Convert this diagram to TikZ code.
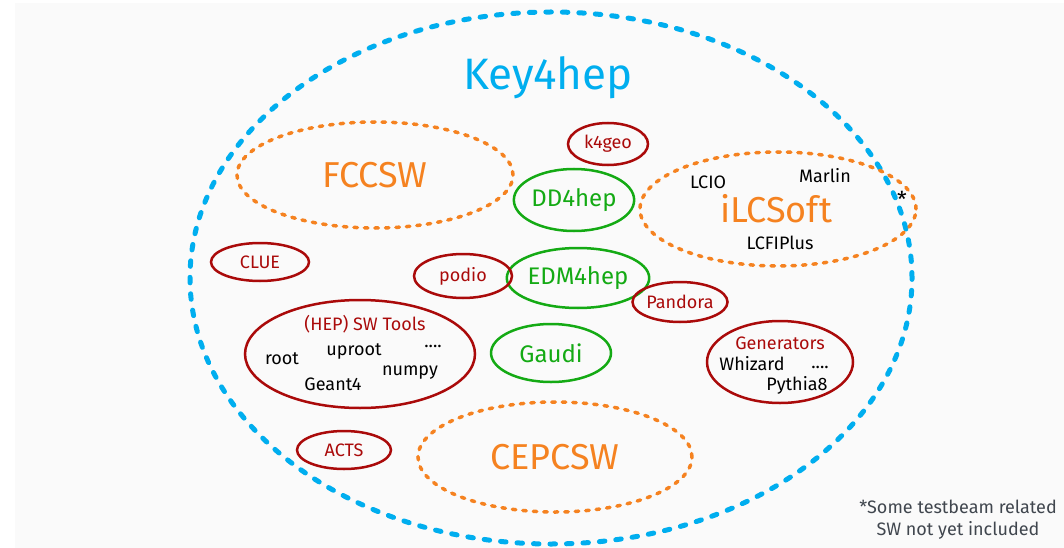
\documentclass[tikz,border=0pt]{standalone}
\usepackage{fontspec}
\setmainfont{Fira Sans}
\usetikzlibrary{shapes.geometric}
\definecolor{bgcol}{RGB}{250,250,250}
\definecolor{kblue}{RGB}{0,174,239}
\definecolor{korange}{RGB}{245,130,32}
\definecolor{kred}{RGB}{170,10,10}
\definecolor{kgreen}{RGB}{20,170,20}
\definecolor{knote}{RGB}{64,70,78}
\newcommand{\fs}[1]{\fontsize{#1}{#1}\selectfont}
\tikzset{
  outerell/.style={ellipse, draw=kblue, line width=5pt, line cap=round, dash pattern=on 5.5pt off 11pt, inner sep=0pt},
  orell/.style={ellipse, draw=korange, line width=3.5pt, line cap=round, dash pattern=on 3.5pt off 7pt, inner sep=0pt, text=korange, font=\fs{36}},
  redell/.style={ellipse, draw=kred, line width=2.5pt, inner sep=0pt, text=kred, font=\fs{18}},
  greenell/.style={ellipse, draw=kgreen, line width=2.5pt, inner sep=0pt, text=kgreen, font=\fs{24}},
  blk/.style={text=black, font=\fs{18}, inner sep=0pt},
  redtxt/.style={text=kred, font=\fs{18}, inner sep=0pt},
  note/.style={text=knote, font=\fs{18}, inner sep=0pt, align=center}
}
\begin{document}
\begin{tikzpicture}[x=1pt,y=-1pt]
\fill[white] (0,0) rectangle (1064,548);
\fill[bgcol] (15,3) rectangle (1064,548);
\useasboundingbox (0,0) rectangle (1064,548);
% outer Key4hep
\node[outerell, minimum width=722pt, minimum height=532pt] (key) at (551,278) {};
\node[text=kblue, font=\fs{44}, inner sep=0pt] (keyl) at (548,78) {Key4hep};
% orange ellipses
\node[orell, minimum width=276pt, minimum height=106pt] (fcc) at (375,175) {FCCSW};
\node[orell, minimum width=276pt, minimum height=114pt] (ilc) at (778,209) {};
\node[text=korange, font=\fs{36}, inner sep=0pt] (ilcl) at (776,209) {iLCSoft};
\node[orell, minimum width=274pt, minimum height=110pt] (cepc) at (555,457) {CEPCSW};
\node[blk] (lcio) at (708,182) {LCIO};
\node[blk] (marlin) at (825,176) {Marlin};
\node[blk] (lcfi) at (780,243) {LCFIPlus};
\node[blk, font=\fs{22}] (star) at (902,199) {*};
% green
\node[greenell, minimum width=120pt, minimum height=62pt] (dd4) at (574,200) {DD4hep};
\node[greenell, minimum width=120pt, minimum height=60pt] (edm) at (578,278) {EDM4hep};
\node[greenell, minimum width=120pt, minimum height=58pt] (gaudi) at (551,353) {Gaudi};
% red
\node[redell, minimum width=80pt, minimum height=42pt] (k4geo) at (608,144) {k4geo};
\node[redell, minimum width=98pt, minimum height=44pt] (podio) at (463,276) {podio};
\node[redell, minimum width=82pt, minimum height=40pt] (pandora) at (680,302) {Pandora};
\node[redell, minimum width=98pt, minimum height=38pt] (clue) at (260,262) {CLUE};
\node[redell, minimum width=94pt, minimum height=38pt] (acts) at (344,450) {ACTS};
\node[redell, minimum width=230pt, minimum height=108pt] (hep) at (360,354) {};
\node[redtxt] (hepl) at (365,324) {(HEP) SW Tools};
\node[blk] (root) at (282,359) {root};
\node[blk] (uproot) at (354,352) {uproot};
\node[blk] (dots1) at (433,346) {....};
\node[blk] (geant) at (333,384) {Geant4};
\node[blk] (numpy) at (410,373) {numpy};
\node[redell, minimum width=146pt, minimum height=82pt] (gen) at (780,362) {};
\node[redtxt] (genl) at (780,343) {Generators};
\node[blk] (whiz) at (752,364) {Whizard};
\node[blk] (dots2) at (820,367) {....};
\node[blk] (pyth) at (797,385) {Pythia8};
% note
\node[note] (note) at (958,520) {*Some testbeam related\\[4pt]SW not yet included};
\end{tikzpicture}
\end{document}
